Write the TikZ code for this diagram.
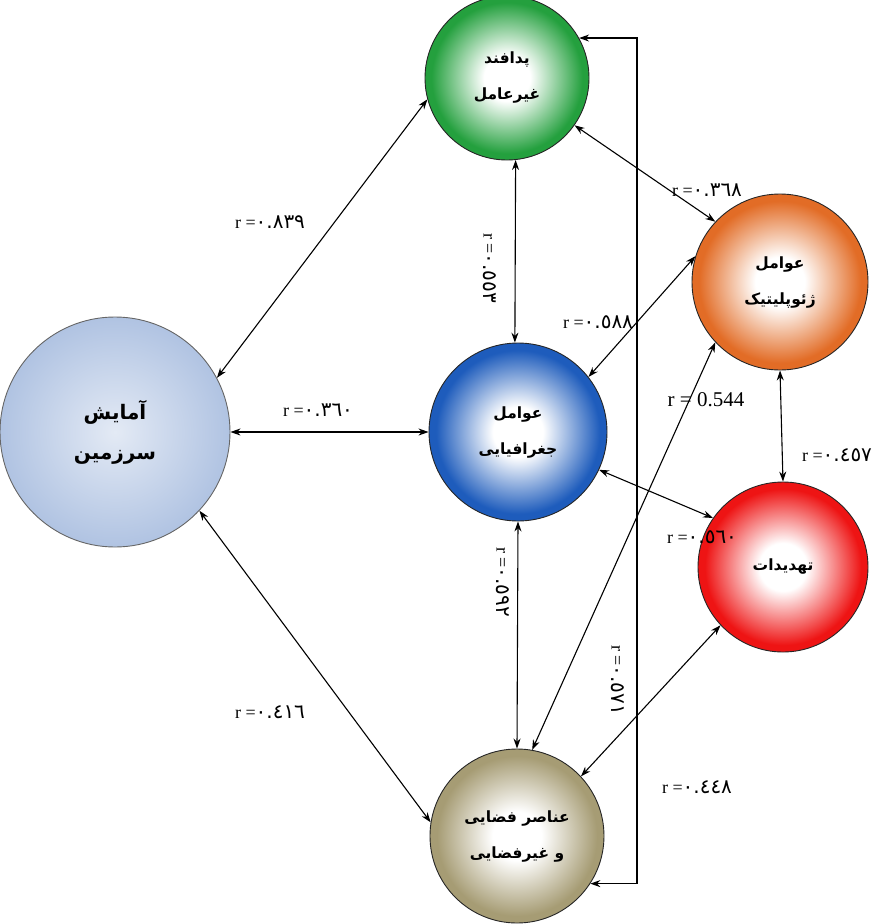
\documentclass[tikz,border=0pt]{standalone}
\usepackage{fontspec}
\setmainfont{Liberation Serif}
\newfontfamily\arabicfont[Script=Arabic]{DejaVu Sans}
\TeXXeTstate=1
\usetikzlibrary{arrows.meta,positioning}

% white core, coloured rim
\pgfdeclareradialshading[bcol]{glow}{\pgfpoint{0bp}{0bp}}{color(0bp)=(white); color(7bp)=(white); color(15bp)=(bcol!50!white); color(23bp)=(bcol); color(50bp)=(bcol)}

\definecolor{padgreen}{RGB}{36,160,62}
\definecolor{geoorange}{RGB}{226,108,38}
\definecolor{amablue}{RGB}{176,195,226}
\definecolor{jogblue}{RGB}{30,92,188}
\definecolor{tahred}{RGB}{238,20,20}
\definecolor{anakhaki}{RGB}{166,156,116}

\newcommand{\rnum}[1]{{\arabicfont\fontsize{20}{22}\selectfont #1}}

\begin{document}
\begin{tikzpicture}[x=1pt,y=-1pt,
    ball/.style={circle, draw=black!85, line width=0.9pt, shading=glow,
      /utils/exec={\colorlet{bcol}{#1}}, align=center, inner sep=0pt,
      font=\arabicfont\bfseries\fontsize{15.5}{36}\selectfont},
    lbl/.style={font=\fontsize{18}{20}\selectfont, inner sep=1pt},
    link/.style={<->, >={Stealth[length=10pt,width=7pt]}, line width=1.1pt}]
  \useasboundingbox (0,0) rectangle (887,924);

  % circles
  \node[circle, draw=black!60, line width=0.9pt, shading=radial,
    inner color=amablue!35!white, outer color=amablue,
    minimum size=230pt, align=center,
    font=\arabicfont\bfseries\fontsize{20}{40}\selectfont] (ama) at (115,432)
    {\beginR آمایش\endR\\\beginR سرزمین\endR};
  \node[ball=padgreen, minimum size=164pt] (pad) at (507,78)
    {\beginR پدافند\endR\\\beginR غیرعامل\endR};
  \node[ball=geoorange, minimum size=176pt] (geo) at (780,282)
    {\beginR عوامل\endR\\\beginR ژئوپلیتیک\endR};
  \node[ball=jogblue, minimum size=178pt] (jog) at (518,432)
    {\beginR عوامل\endR\\\beginR جغرافیایی\endR};
  \node[ball=tahred, minimum size=170pt] (tah) at (783,567)
    {\beginR تهدیدات\endR};
  \node[ball=anakhaki, minimum size=174pt] (ana) at (517,836)
    {\beginR عناصر فضایی\endR\\\beginR و غیرفضایی\endR};

  % links
  \draw[link] (ama.28) -- (pad.195);
  \draw[link] (ama) -- (jog);
  \draw[link] (ama.-43) -- (ana.171);
  \draw[link] (pad.-84) -- (jog.92);
  \draw[link] (pad.-35) -- (geo.137);
  \draw[link] (jog.38) -- (geo.163);
  \draw[link] (geo.south) -- (tah.north);
  \draw[link] (jog.-25) -- (tah.145);
  \draw[link] (jog.south) -- (ana.north);
  \draw[link] (ana.80) -- (geo.223);
  \draw[link] (tah.223) -- (ana.43);
  \coordinate (rt) at (637,0);
  \draw[link] (pad.29) -- (pad.29 -| rt) -- (ana.-33 -| rt) -- (ana.-33);

  % labels
  \node[lbl] (l1) at (270,222) {r =\rnum{٠.٨٣٩}};
  \node[lbl] (l2) at (318,410) {r =\rnum{٠.٣٦٠}};
  \node[lbl] (l3) at (270,712) {r =\rnum{٠.٤١٦}};
  \node[lbl, rotate=-90] (l4) at (490,268) {r =\rnum{٠.٥٥٣}};
  \node[lbl] (l5) at (707,190) {r =\rnum{٠.٣٦٨}};
  \node[lbl] (l6) at (598,322) {r =\rnum{٠.٥٨٨}};
  \node[lbl] (l7) at (837,455) {r =\rnum{٠.٤٥٧}};
  \node[lbl] (l8) at (702,537) {r =\rnum{٠.٥٦٠}};
  \node[lbl, rotate=-90] (l9) at (503,582) {r =\rnum{٠.٥٩٢}};
  \node[lbl, font=\fontsize{21}{23}\selectfont] (l10) at (706,400) {r = 0.544};
  \node[lbl] (l11) at (697,787) {r =\rnum{٠.٤٤٨}};
  \node[lbl, rotate=-90] (l12) at (618,680) {r =\rnum{٠.٥٧١}};
\end{tikzpicture}
\end{document}
